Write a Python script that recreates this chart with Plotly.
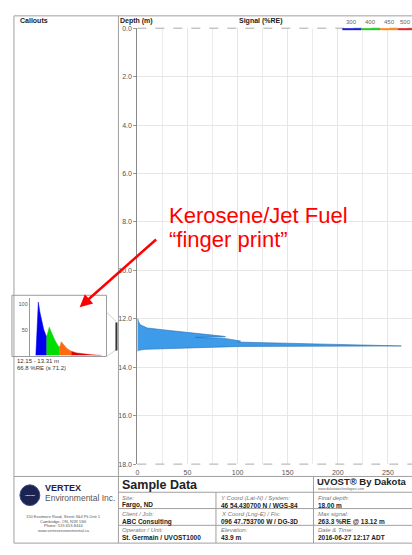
import plotly.graph_objects as go

# ---------------- data ----------------
depth_m = [12.00, 12.10, 12.25, 12.32, 12.38, 12.45, 12.55, 12.65, 12.72, 12.74,
           12.77, 12.80, 12.86, 12.92, 12.96, 13.00, 13.05, 13.10, 13.12, 13.13,
           13.14, 13.18, 13.22, 13.26, 13.30, 13.35]
signal_re = [0.5, 1, 3, 8, 10, 25, 45, 70, 86, 88,
             58, 85, 95, 103, 100, 140, 190, 250, 263.3, 180,
             105, 70, 35, 8, 1, 0]

# callout waveform (time in ns, signal in %RE) per channel
wave_blue_t = [6, 8.5, 10, 12, 14, 16, 17]
wave_blue_v = [0, 104, 85, 65, 50, 40, 37]
wave_green_t = [17, 17, 19.5, 22, 25, 28, 30]
wave_green_v = [0, 37, 55, 42, 30, 20, 16]
wave_orange_t = [30, 30, 31.5, 34, 37, 40, 42]
wave_orange_v = [0, 16, 27, 20, 14, 10, 8]
wave_red_t = [42, 42, 47, 52, 57, 62, 67, 72]
wave_red_v = [0, 8, 5, 3.5, 2.5, 1.5, 0.8, 0.3]

x_ticks = [0, 50, 100, 150, 200, 250]
y_ticks = [0, 2, 4, 6, 8, 10, 12, 14, 16, 18]
legend_labels = ["300", "400", "450", "500"]
legend_colors = ["#1f1fd0", "#22cc22", "#ff8a1a", "#e0262a"]
callout_range = [12.15, 13.31]

W, H = 412, 555
def px(x):
    return x / W
def py(y):
    return 1 - y / H

FONT = "Liberation Sans, Arial, sans-serif"

fig = go.Figure()

# main signal trace
fig.add_trace(go.Scatter(
    x=signal_re, y=depth_m, mode="lines", fill="tozerox",
    fillcolor="#3d9be9", line=dict(color="#2a6db0", width=0.6),
    xaxis="x", yaxis="y", showlegend=False, hoverinfo="skip"))

# inset waveform traces
for t, v, c in [(wave_blue_t, wave_blue_v, "#0000ee"),
                (wave_green_t, wave_green_v, "#00dd00"),
                (wave_orange_t, wave_orange_v, "#ff6a10"),
                (wave_red_t, wave_red_v, "#e00000")]:
    fig.add_trace(go.Scatter(
        x=t, y=v, mode="lines", fill="tozeroy", fillcolor=c,
        line=dict(color=c, width=0.5), xaxis="x2", yaxis="y2",
        showlegend=False, hoverinfo="skip"))

shapes = []
annos = []

def hline(x0, x1, y, color="#a0a0a0", width=1, dash="solid"):
    shapes.append(dict(type="line", xref="paper", yref="paper",
                       x0=px(x0), x1=px(x1), y0=py(y), y1=py(y),
                       line=dict(color=color, width=width, dash=dash), layer="above"))

def vline(x, y0, y1, color="#a0a0a0", width=1):
    shapes.append(dict(type="line", xref="paper", yref="paper",
                       x0=px(x), x1=px(x), y0=py(y0), y1=py(y1),
                       line=dict(color=color, width=width), layer="above"))

def text(x, y, s, size=7, color="#333", bold=False, italic=False, anchor="left", fam=FONT):
    if bold:
        s = "<b>" + s + "</b>"
    if italic:
        s = "<i>" + s + "</i>"
    annos.append(dict(x=px(x), y=py(y), xref="paper", yref="paper", text=s,
                      showarrow=False, xanchor=anchor, yanchor="middle",
                      font=dict(size=size, color=color, family=fam)))

# frame lines
hline(12, 412, 12)
vline(12, 12, 546)
vline(117, 12, 478)
hline(136, 412, 24.5, color="#aaaaaa", dash="dash")
hline(136, 412, 466, color="#aaaaaa", dash="dash")

# headers
text(16, 17, "Callouts", size=7, color="#222", bold=True)
text(117, 17, "Depth (m)", size=7, color="#222", bold=True)
text(260, 17, "Signal (%RE)", size=7, color="#222", bold=True, anchor="center")

# signal legend bar
seg_x = [342, 361, 380, 398, 412]
for i, (lab, col) in enumerate(zip(legend_labels, legend_colors)):
    hline(seg_x[i], seg_x[i + 1], 25.5, color=col, width=2)
    text((seg_x[i] + seg_x[i + 1]) / 2, 18, lab, size=6, color="#666", anchor="center")

# inset box
shapes.append(dict(type="rect", xref="paper", yref="paper",
                   x0=px(10), x1=px(105), y0=py(357), y1=py(295),
                   line=dict(color="#9a9a9a", width=1), fillcolor="rgba(0,0,0,0)", layer="below"))
# connectors from inset to depth marker
shapes.append(dict(type="line", xref="paper", yref="paper", x0=px(105), y0=py(312),
                   x1=px(115), y1=py(322), line=dict(color="#d0d0d0", width=1)))
shapes.append(dict(type="line", xref="paper", yref="paper", x0=px(105), y0=py(357),
                   x1=px(115), y1=py(350), line=dict(color="#d0d0d0", width=1)))
# depth marker bar for callout
shapes.append(dict(type="line", xref="paper", yref="y", x0=px(115), x1=px(115),
                   y0=callout_range[0], y1=callout_range[1],
                   line=dict(color="#333", width=2)))
text(13, 362, "%.2f - %.2f m" % (callout_range[0], callout_range[1]), size=6, color="#333")
text(13, 369, "66.8 %RE (s 71.2)", size=6, color="#333")

# red callout text + arrow
text(166, 214, "Kerosene/Jet Fuel", size=22, color="#ff0000")
text(166, 239, "\u201cfinger print\u201d", size=22, color="#ff0000")
annos.append(dict(x=px(78), y=py(307), xref="paper", yref="paper", text="",
                  showarrow=True, ax=78, ay=-69, arrowcolor="#ff0000",
                  arrowwidth=2.5, arrowhead=2, arrowsize=1))

# bottom info panel
hline(12, 412, 478.5)
hline(117, 412, 494.5)
hline(117, 412, 511)
hline(117, 412, 528)
hline(12, 412, 546)
vline(117, 478, 546)
vline(215, 494.5, 546)
vline(313, 478.5, 546)

# logo
shapes.append(dict(type="circle", xref="paper", yref="paper",
                   x0=px(18), x1=px(38), y0=py(508), y1=py(487),
                   fillcolor="#1c2350", line=dict(color="#3a4a8a", width=1)))
text(28, 497.5, "VERTEX", size=2.5, color="#ffffff", anchor="center", bold=True)
text(41, 490, "VERTEX", size=9, color="#1c2350", bold=True)
text(41, 500, "Environmental Inc.", size=8.5, color="#555")
text(62, 519, "150 Eastmore Road, Street 3&4 Pk Unit 1", size=4, color="#555", anchor="center")
text(62, 524, "Cambridge, ON, N1R 5S6", size=4, color="#555", anchor="center")
text(62, 528.5, "Phone: 519-653-8444", size=4, color="#555", anchor="center")
text(62, 533.5, "www.vertexenvironmental.ca", size=4, color="#555", anchor="center")

text(119, 487, "Sample Data", size=12.5, color="#222", bold=True)
text(315, 484, "UVOST\u00ae By Dakota", size=9.5, color="#222", bold=True)
text(316, 490.8, "www.dakotatechnologies.com", size=3.5, color="#666")

cells = [
    (119, 500, "Site:", "Fargo, ND"),
    (119, 517, "Client / Job:", "ABC Consulting"),
    (119, 533, "Operator / Unit:", "St. Germain / UVOST1000"),
    (218, 500, "Y Coord (Lat-N) / System:", "46 54.430700 N / WGS-84"),
    (218, 517, "X Coord (Lng-E) / Fix:", "096 47.753700 W / DG-3D"),
    (218, 533, "Elevation:", "43.9 m"),
    (316, 500, "Final depth:", "18.00 m"),
    (316, 517, "Max signal:", "263.3 %RE @ 13.12 m"),
    (316, 533, "Date & Time:", "2016-06-27 12:17 ADT"),
]
for x, y, lab, val in cells:
    text(x, y, lab, size=6, color="#777", italic=True)
    text(x, y + 7.5, val, size=6.5, color="#222", bold=True)

fig.update_layout(
    width=W, height=H,
    margin=dict(l=0, r=0, t=0, b=0),
    paper_bgcolor="white", plot_bgcolor="white",
    font=dict(family=FONT, size=7, color="#555"),
    xaxis=dict(domain=[px(136), 1], range=[0, 274], tickvals=x_ticks,
               showgrid=True, gridcolor="#e6e6e6", gridwidth=1,
               minor=dict(dtick=25, showgrid=True, gridcolor="#ececec"),
               zeroline=False, showline=False, ticks="outside", ticklen=1,
               tickcolor="rgba(0,0,0,0)", anchor="y",
               tickfont=dict(size=7, color="#555")),
    yaxis=dict(domain=[py(466), py(24.5)], range=[18, 0], tickvals=y_ticks,
               tickformat=".1f", showgrid=True, gridcolor="#e6e6e6",
               zeroline=False, showline=True, linecolor="#888", linewidth=1,
               ticks="outside", ticklen=3, tickcolor="#999", anchor="x",
               tickfont=dict(size=7, color="#555")),
    xaxis2=dict(domain=[px(28), px(104)], range=[0, 76], visible=False, anchor="y2"),
    yaxis2=dict(domain=[py(356), py(298)], range=[0, 111.5], tickvals=[50, 100],
                showgrid=False, zeroline=False, showline=True, linecolor="#999",
                ticks="", anchor="x2", tickfont=dict(size=5.5, color="#555")),
    shapes=shapes, annotations=annos, showlegend=False,
)

fig.write_html("out.html", config={"displayModeBar": False},
               post_script="document.body.style.margin='0';document.body.style.overflow='hidden';")
